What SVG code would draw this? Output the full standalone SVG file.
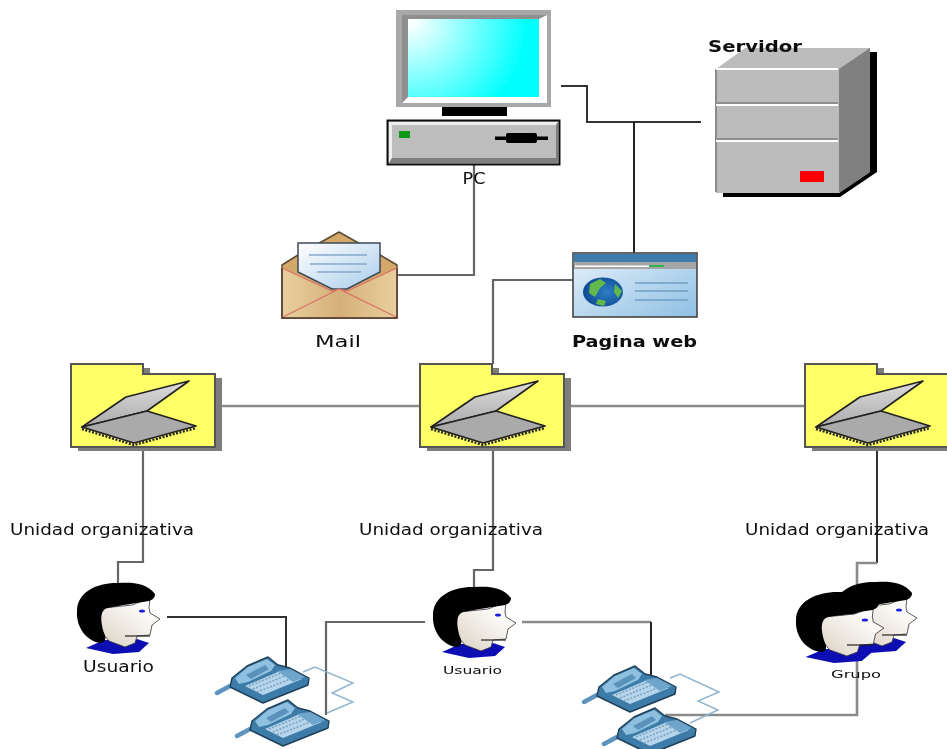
<svg xmlns="http://www.w3.org/2000/svg" width="947" height="749" viewBox="0 0 947 749">
<style>
text{font-family:"DejaVu Sans","Liberation Sans",sans-serif;fill:#111}
.lab{font-size:15px}
.bold{font-size:16px;font-weight:bold}
.small{font-size:11px}
.c{fill:none;stroke-width:2;stroke-linejoin:miter}
.g1{stroke:#8a8a8a;stroke-width:2.6}.g2{stroke:#666;stroke-width:2.2}.g3{stroke:#333}
.zig{fill:none;stroke:#8fb4d0;stroke-width:1.4}
</style>
<defs>
<filter id="soft" filterUnits="userSpaceOnUse" x="0" y="0" width="947" height="749"><feGaussianBlur stdDeviation="0.6"/></filter>
<radialGradient id="scr" gradientUnits="userSpaceOnUse" cx="412" cy="22" r="115"><stop offset="0" stop-color="#fff"/><stop offset="1" stop-color="#0ff"/></radialGradient>
<linearGradient id="skin" x1="0" y1="1" x2="1" y2="0"><stop offset="0" stop-color="#d9cfc0"/><stop offset=".7" stop-color="#fbf9f6"/><stop offset="1" stop-color="#fff"/></linearGradient>
<linearGradient id="env" x1="0" y1="0" x2="1" y2="0"><stop offset="0" stop-color="#e8cf9e"/><stop offset=".5" stop-color="#d6b078"/><stop offset="1" stop-color="#e8cf9e"/></linearGradient>
<linearGradient id="paper" x1="0" y1="0" x2="1" y2="1"><stop offset="0" stop-color="#fff"/><stop offset="1" stop-color="#a9cdea"/></linearGradient>
<linearGradient id="web" x1="0" y1="0" x2="1" y2="1"><stop offset="0" stop-color="#e6f1f9"/><stop offset="1" stop-color="#8fc0e4"/></linearGradient>
<radialGradient id="globe" cx=".6" cy=".5" r=".6"><stop offset="0" stop-color="#2f7fc4"/><stop offset="1" stop-color="#0d4a94"/></radialGradient>
<linearGradient id="lid" x1="0" y1="0" x2="0" y2="1"><stop offset="0" stop-color="#ddd"/><stop offset="1" stop-color="#aaa"/></linearGradient>
<g id="folder">
<path d="M7 4H79V14H151V87H7Z" fill="#7d7d7d"/>
<path d="M0 0H72V10H144V83H0Z" fill="#ffff66" stroke="#555" stroke-width="2"/>
<path d="M11 63L55 33L118 17L76 47Z" fill="url(#lid)" stroke="#222" stroke-width="1.6" stroke-linejoin="round"/>
<path d="M11 63L76 47L125 62L63 79Z" fill="#aaa" stroke="#222" stroke-width="1.8" stroke-linejoin="round"/>
<path d="M11 65L63 81L125 64" fill="none" stroke="#222" stroke-width="2.4" stroke-dasharray="2 1.5"/>
</g>
<g id="person">
<path d="M9 65L27 57L38 57L50 61L60 56L72 60L62 69L36 71Z" fill="#0a0ab4"/>
<path d="M27 25L55 22L73 15L72 25L73 30L83 36L75 42L73 52L60 53L58 60L48 64L32 58L27 52L20 37Z" fill="url(#skin)" stroke="#333" stroke-width=".8"/>
<path d="M48 53H73" stroke="#222" stroke-width="1.2" fill="none"/>
<path d="M42 0C55 -1 70 0 78 11C78 15 75 17 72 18C60 20 45 22 30 25C22 28 24 40 27 50C30 56 28 60 23 60C10 58 -1 45 0 28C0 8 22 -1 42 0Z" fill="#000"/>
<ellipse cx="65" cy="28" rx="3" ry="1.6" fill="#1a1ae0"/>
</g>
<g id="phone">
<path d="M2 36L15 29" stroke="#5b93bf" stroke-width="4.500" stroke-linecap="round" fill="none"/>
<path d="M17 21L32 9L53 0L63 8L75 11L94 21L93 28L48 46L15 30Z" fill="#3d7ba8" stroke="#1f3f58" stroke-width="1.400" stroke-linejoin="round"/>
<path d="M20 21L33 10L52 2L60 8L56 14L33 25L24 27Z" fill="#8fc0e0"/>
<path d="M31 18L50 8L54 12L36 22Z" fill="#5a92bb"/>
<path d="M30 29L65 14L87 22L48 38Z" fill="#b6d5ea"/>
<path d="M62 14L75 12L90 20L78 25Z" fill="#6ea5cc"/>
<path d="M34 29L66 16M38 32L72 18M42 35L78 21" stroke="#7aa4c2" stroke-width="1.600" stroke-dasharray="2 1.500" fill="none"/>
</g>
</defs>
<rect width="947" height="749" fill="#fff"/>
<g filter="url(#soft)">
<g id="connectors">
<path class="c g3" d="M561 86H587V122H701"/>
<path class="c" stroke="#222" d="M634 122V253"/>
<path class="c g2" d="M397 275H474V165"/>
<path class="c g2" d="M573 280H493V364"/>
<path class="c g1" d="M215 406H805"/>
<path class="c g2" d="M143 447V562H118V583"/>
<path class="c g2" d="M493 447V570H474V587"/>
<path class="c g3" d="M877 447V563"/>
<path class="c g1" d="M877 563H857V715H665"/>
<path class="c g3" d="M167 617H286V668"/>
<path class="c g2" d="M425 622H326V715"/>
<path class="c g1" d="M522 622H651"/>
<path class="c" stroke="#222" d="M651 622V678"/>
<path class="zig" d="M303 672L315 667L353 683L332 693L353 702L327 713"/>
<path class="zig" d="M670 678L680 674L719 692L698 701L718 710L690 723"/>
</g>
<g id="pc">
<rect x="396" y="10" width="155" height="97" fill="#a8a8a8"/>
<rect x="402" y="15" width="145" height="88" fill="#fff"/>
<path d="M402 15H547L539 19H408V97L402 103Z" fill="#8f8f8f"/>
<rect x="408" y="19" width="131" height="78" fill="url(#scr)"/>
<rect x="442" y="107" width="65" height="9" fill="#000"/>
<rect x="387.500" y="120.500" width="172" height="44" fill="#bdbdbd" stroke="#111" stroke-width="2"/>
<path d="M389 122H558L556 125H392V158L389 163Z" fill="#eee"/>
<path d="M389 163L392 158H556V125L558 122V163Z" fill="#808080"/>
<rect x="399" y="131" width="11" height="7" fill="#0a9a14"/>
<rect x="495" y="136.500" width="53" height="3.500" fill="#000"/>
<rect x="506" y="133" width="31" height="10" rx="2" fill="#000"/>
<text class="lab" x="474" y="184" text-anchor="middle" textLength="23" lengthAdjust="spacingAndGlyphs">PC</text>
</g>
<g id="servidor">
<path d="M723 197H840L877 172V52H840V193H723Z" fill="#000"/>
<path d="M716 69L745 48H870V172L839 193H716Z" fill="#bcbcbc"/>
<path d="M839 69L870 48V172L839 193Z" fill="#808080"/>
<path d="M716 69V192" stroke="#8a8a8a" stroke-width="2"/>
<path d="M716 69H838M716 105H838M716 141H838" stroke="#fff" stroke-width="2"/>
<path d="M716 103H838M716 139H838" stroke="#8f8f8f" stroke-width="2"/>
<rect x="800" y="171" width="24" height="11" fill="#f00"/>
<text class="bold" x="708" y="51.500" textLength="94" lengthAdjust="spacingAndGlyphs">Servidor</text>
</g>
<g id="mail">
<path d="M282 265L298 255L339 232L380 255L397 265V318H282Z" fill="#d3a868" stroke="#5a4a35" stroke-width="1.500" stroke-linejoin="round"/>
<path d="M298 243H380V272L347 289L332 289L298 272Z" fill="url(#paper)" stroke="#3d4a5a" stroke-width="1.500"/>
<path d="M309 255H367M310 264H367M317 272H361" stroke="#88a8cc" stroke-width="1.300"/>
<path d="M282 268L332 291L339 289L347 291L397 268V318H282Z" fill="url(#env)" stroke="#d8746a" stroke-width="1.200"/>
<path d="M283 317L339 289L396 317" fill="none" stroke="#d8746a" stroke-width="1.300"/>
<path d="M282 268V318H397V268" fill="none" stroke="#4a3a28" stroke-width="1.500"/>
<text class="lab" x="338" y="347" text-anchor="middle" textLength="46" lengthAdjust="spacingAndGlyphs">Mail</text>
</g>
<g id="pagina-web">
<rect x="573" y="253" width="124" height="64" fill="url(#web)" stroke="#444" stroke-width="1.600"/>
<rect x="574" y="254" width="122" height="8" fill="#3f7cab"/>
<rect x="574" y="262" width="122" height="7" fill="#a6a6a6"/>
<rect x="575" y="265.500" width="74" height="1.500" fill="#fff"/>
<rect x="649" y="265" width="15" height="2" fill="#2fb04c"/>
<ellipse cx="603" cy="292" rx="20" ry="14.500" fill="url(#globe)"/>
<path d="M590 284L600 279L606 283L600 288L595 297L589 293ZM615 284L622 291L618 298L614 292ZM598 299L606 301L604 306L596 304Z" fill="#63b84c"/>
<path d="M635 283H688M635 291H688M635 300H688" stroke="#6f9fc4" stroke-width="1.500"/>
<text class="bold" x="572" y="347" textLength="125" lengthAdjust="spacingAndGlyphs">Pagina web</text>
</g>
<g id="unidad-1">
<use href="#folder" x="71" y="364"/>
<text class="lab" x="10" y="535" textLength="184" lengthAdjust="spacingAndGlyphs">Unidad organizativa</text>
</g>
<g id="unidad-2">
<use href="#folder" x="420" y="364"/>
<text class="lab" x="359" y="535" textLength="184" lengthAdjust="spacingAndGlyphs">Unidad organizativa</text>
</g>
<g id="unidad-3">
<use href="#folder" x="805" y="364"/>
<text class="lab" x="745" y="535" textLength="184" lengthAdjust="spacingAndGlyphs">Unidad organizativa</text>
</g>
<g id="usuario-1">
<use href="#person" x="77" y="583"/>
<text class="lab" x="83" y="672" textLength="71" lengthAdjust="spacingAndGlyphs">Usuario</text>
</g>
<g id="usuario-2">
<use href="#person" x="433" y="587"/>
<text class="small" x="443" y="674" textLength="59" lengthAdjust="spacingAndGlyphs">Usuario</text>
</g>
<g id="grupo">
<use href="#person" x="834" y="582"/>
<use href="#person" transform="translate(796 592) scale(1.06 1)"/>
<text class="small" x="831" y="678" textLength="50" lengthAdjust="spacingAndGlyphs">Grupo</text>
</g>
<g id="telefono-1"><use href="#phone" x="215" y="657"/></g>
<g id="telefono-2"><use href="#phone" x="235" y="700"/></g>
<g id="telefono-3"><use href="#phone" x="582" y="666"/></g>
<g id="telefono-4"><use href="#phone" x="602" y="708"/></g>
</g>
</svg>
